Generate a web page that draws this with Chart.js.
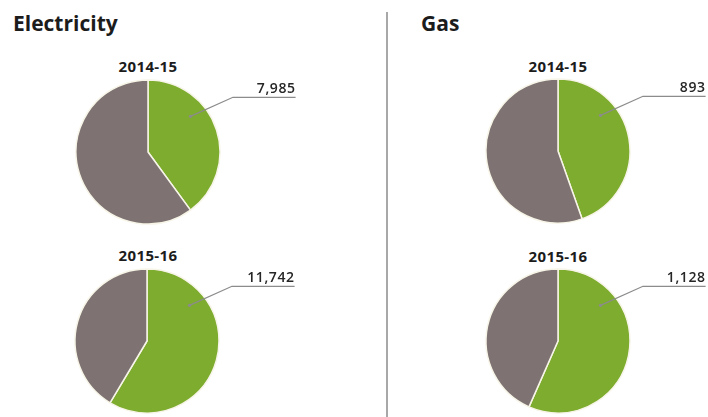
<!DOCTYPE html>
<html>
<head>
<meta charset="utf-8">
<script src="https://cdn.jsdelivr.net/npm/chart.js@4"></script>
<style>
  body { margin: 0; background: #fff; font-family: "Open Sans", sans-serif; }
  #wrap { position: relative; width: 708px; height: 417px; overflow: hidden; }
  .head { position: absolute; top: 9px; font-size: 21px; font-weight: 700; color: #1c1c1c; }
  .year { position: absolute; width: 120px; text-align: center; font-size: 15px; font-weight: 700;
          letter-spacing: 0.4px; color: #1c1c1c; line-height: 20px; }
  .pie { position: absolute; width: 300px; height: 150px; }
  #divider { position: absolute; left: 386px; top: 12px; width: 1.5px; height: 405px; background: #a8a8a8; }
</style>
</head>
<body>
<div id="wrap">
  <div class="head" style="left:13px">Electricity</div>
  <div class="head" style="left:421px">Gas</div>
  <div id="divider"></div>

  <div class="year" style="left:88px; top:56px">2014-15</div>
  <div class="year" style="left:88px; top:245px">2015-16</div>
  <div class="year" style="left:498px; top:56px">2014-15</div>
  <div class="year" style="left:498px; top:246px">2015-16</div>

  <div class="pie" style="left:-2px; top:77px"><canvas id="elec1415"></canvas></div>
  <div class="pie" style="left:-3px; top:266px"><canvas id="elec1516"></canvas></div>
  <div class="pie" style="left:408px; top:76px"><canvas id="gas1415"></canvas></div>
  <div class="pie" style="left:408px; top:266px"><canvas id="gas1516"></canvas></div>
</div>

<script>
// Labelled share (green) and the rest (grey) for each year
const years = ['2014-15', '2015-16'];
const electricityLabelled = [7985, 11742];
const electricityOther = [12000, 8300];
const gasLabelled = [893, 1128];
const gasOther = [1110, 865];

const GREEN = '#7eac2f';
const GREY = '#7e7372';

// Leader line + value label pointing at the green slice
const calloutPlugin = {
  id: 'callout',
  afterDatasetsDraw(chart) {
    const arc = chart.getDatasetMeta(0).data[0];
    const value = chart.data.datasets[0].data[0];
    const { x, y, startAngle, outerRadius: r } = arc.getProps(['x', 'y', 'startAngle', 'outerRadius'], true);
    const a = startAngle + 50 * Math.PI / 180;
    const sx = x + Math.cos(a) * r * 0.77;
    const sy = y + Math.sin(a) * r * 0.77;
    const ex = x + r * 1.18;
    const ey = y - r * 0.76;
    const endX = x + r * 2.05;
    const ctx = chart.ctx;
    ctx.save();
    ctx.strokeStyle = '#8c8c8c';
    ctx.lineWidth = 1.2;
    ctx.beginPath();
    ctx.moveTo(sx, sy);
    ctx.lineTo(ex, ey);
    ctx.lineTo(endX, ey);
    ctx.stroke();
    ctx.fillStyle = '#8c8c8c';
    ctx.beginPath();
    ctx.arc(sx, sy, 1.6, 0, Math.PI * 2);
    ctx.fill();
    ctx.fillStyle = '#262626';
    ctx.font = '600 14px "Open Sans"';
    ctx.letterSpacing = '0.6px';
    ctx.textAlign = 'right';
    ctx.textBaseline = 'alphabetic';
    ctx.fillText(value.toLocaleString('en-US'), endX, ey - 4);
    ctx.restore();
  }
};

function makePie(id, labelled, other) {
  return new Chart(document.getElementById(id), {
    type: 'pie',
    data: {
      labels: ['Labelled', 'Other'],
      datasets: [{
        data: [labelled, other],
        backgroundColor: [GREEN, GREY],
        borderColor: '#f7f5e8',
        borderWidth: 1.5,
        radius: 72
      }]
    },
    options: {
      responsive: true,
      maintainAspectRatio: false,
      animation: false,
      plugins: { legend: { display: false }, tooltip: { enabled: false } }
    },
    plugins: [calloutPlugin]
  });
}

makePie('elec1415', electricityLabelled[0], electricityOther[0]);
makePie('elec1516', electricityLabelled[1], electricityOther[1]);
makePie('gas1415', gasLabelled[0], gasOther[0]);
makePie('gas1516', gasLabelled[1], gasOther[1]);
</script>
</body>
</html>
